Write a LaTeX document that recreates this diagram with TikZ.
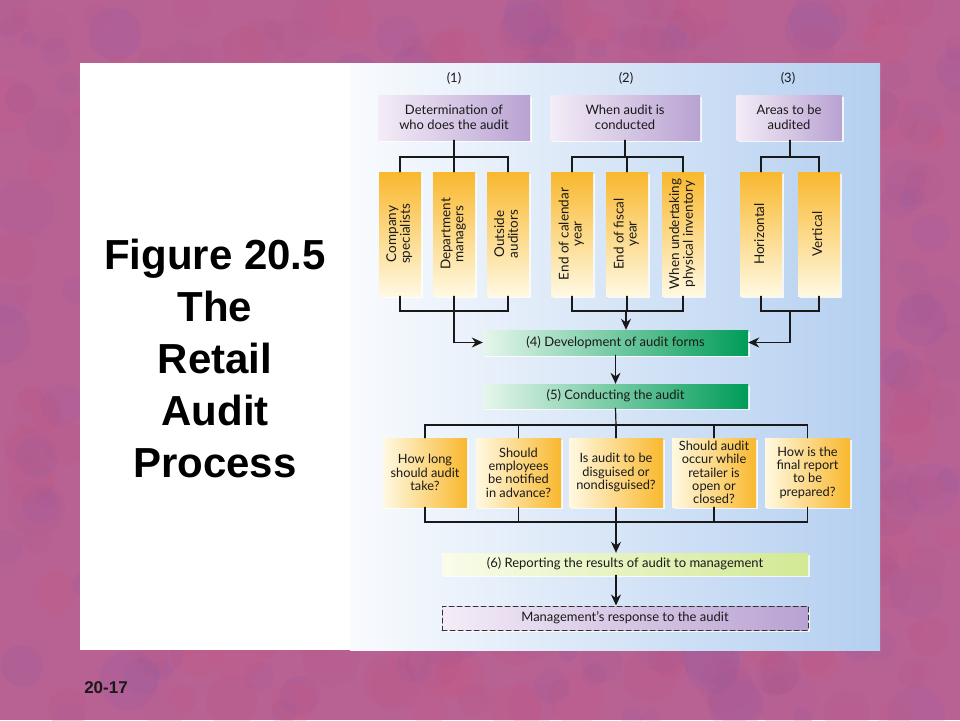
\documentclass[tikz,border=0pt]{standalone}
\usepackage{fontspec}
\usepackage{graphicx}
\setmainfont{Lato}
\newfontfamily\titlefont{Liberation Sans}
\usetikzlibrary{arrows.meta, positioning, shadows}
\newcommand{\sidetext}[1]{\rotatebox{90}{\begin{tabular}{@{}c@{}}#1\end{tabular}}}

\begin{document}
\begin{tikzpicture}[x=1pt, y=-1pt, line cap=round,
    %Style
    connector/.style={line width=1.2pt, black!90},
    arrow line/.style={connector, -{Stealth[length=11pt,width=10pt]}},
    chart box/.style={inner sep=1pt, align=center, text=black!90,
      font=\fontsize{13}{14.8}\selectfont,
      drop shadow={shadow xshift=2pt, shadow yshift=-2pt, fill=white, opacity=0.8}},
    question box/.style={chart box, minimum height=45pt, left color=lilaclight, right color=lilacdark},
    option box/.style={chart box, minimum width=42pt, minimum height=124pt,
      top color=goldtop, bottom color=goldbottom, font=\fontsize{13.5}{13}\selectfont},
    issue box/.style={chart box, minimum height=69pt, left color=goldbottom, right color=goldtop,
      font=\fontsize{12.8}{13.3}\selectfont},
    stage box/.style={chart box, minimum width=265pt, minimum height=25pt,
      left color=mintlight, right color=mintdark},
    report box/.style={chart box, minimum width=366pt, minimum height=22pt,
      left color=limelight, right color=limedark},
    response box/.style={chart box, minimum width=366pt, minimum height=24pt,
      left color=lilaclight, right color=lilacdark, draw=black!80, line width=1pt,
      dash pattern=on 5pt off 3pt},
    title text/.style={align=center, text=black, font=\titlefont\bfseries\fontsize{42}{52}\selectfont}]
    %Colors
    \definecolor{slidepink}{RGB}{184,98,148}
    \definecolor{blobpurple}{RGB}{132,90,170}
    \definecolor{blobred}{RGB}{214,80,110}
    \definecolor{panelblue}{RGB}{180,207,240}
    \definecolor{lilaclight}{RGB}{244,236,247}
    \definecolor{lilacdark}{RGB}{184,162,210}
    \definecolor{goldtop}{RGB}{249,184,46}
    \definecolor{goldbottom}{RGB}{255,249,226}
    \definecolor{mintlight}{RGB}{230,246,236}
    \definecolor{mintdark}{RGB}{0,156,88}
    \definecolor{limelight}{RGB}{249,252,234}
    \definecolor{limedark}{RGB}{210,233,148}

    \useasboundingbox (0,0) rectangle (960,720);

    %The slide
    \begin{scope}
      \clip (0,0) rectangle (960,720);
      \fill[slidepink] (0,0) rectangle (960,720);
      \pgfmathsetseed{17}
      \foreach \i in {1,...,500}{
        \pgfmathsetmacro{\bx}{rnd*960}
        \pgfmathsetmacro{\by}{rnd*720}
        \pgfmathsetmacro{\br}{8+rnd*22}
        \pgfmathsetmacro{\bmix}{rnd*100}
        \fill[blobpurple!\bmix!blobred, opacity=0.14] (\bx,\by) circle [radius=\br];
      }
    \end{scope}
    \fill[white] (80,63) rectangle (880,650);
    \shade[left color=white!92!panelblue, right color=panelblue] (350,63) rectangle (880,650);

    \node[title text] (title) at (215,358) {Figure 20.5\\The\\Retail\\Audit\\Process};
    \node[font=\titlefont\bfseries\fontsize{17}{20}\selectfont, text=black!90] (page) at (106,688) {20-17};

    %Three decisions
    \foreach \n/\x in {1/454, 2/626, 3/788}
      \node[font=\fontsize{13}{14}\selectfont, text=black!90] (head\n) at (\x,78) {(\n)};
    \node[question box, minimum width=152pt] (who) at (454,117.5) {Determination of\\who does the audit};
    \node[question box, minimum width=150pt] (when) at (625,117.5) {When audit is\\conducted};
    \node[question box, minimum width=105pt] (areas) at (789,117.5) {Areas to be\\audited};

    \foreach \name/\x/\text in {who1/400/Company\\specialists, who2/454/Department\\managers,
        who3/508/Outside\\auditors, when1/572/End of calendar\\year, when2/627/End of fiscal\\year,
        when3/683/When undertaking\\physical inventory, areas1/761/Horizontal, areas2/819/Vertical}
      \node[option box] (\name) at (\x,234) {\sidetext{\text}};

    \node[stage box] (forms) at (615.5,342.5) {(4) Development of audit forms};
    \node[stage box, minimum height=24pt] (conduct) at (615.5,396) {(5) Conducting the audit};

    \foreach \name/\x/\w/\text in {long/425/84/How long\\should audit\\take?,
        notify/518.5/85/Should\\employees\\be notified\\in advance?,
        disguise/616/94/Is audit to be\\disguised or\\nondisguised?,
        open/714/84/Should audit\\occur while\\retailer is\\open or\\closed?,
        final/807.5/85/How is the\\final report\\to be\\prepared?}
      \node[issue box, minimum width=\w pt] (\name) at (\x,472.5) {\text};

    \node[report box] (report) at (625,564) {(6) Reporting the results of audit to management};
    \node[response box] (response) at (625,618) {Management's response to the audit};

    %Connectors
    \coordinate (who top) at (454,157);
    \coordinate (when top) at (626,157);
    \coordinate (areas top) at (790,157);
    \coordinate (who low) at (454,311);
    \coordinate (when low) at (626,311);
    \coordinate (areas low) at (790,311);
    \coordinate (ask top) at (616,425);
    \coordinate (ask low) at (616,522);

    \draw[connector] (who.south) -- (who.south |- who top);
    \draw[connector] (when.south) -- (when.south |- when top);
    \draw[connector] (areas.south -| areas top) -- (areas top);
    \draw[connector] (who1.north) |- (who3.north |- who top) -- (who3.north);
    \draw[connector] (who2.north) -- (who2.north |- who top);
    \draw[connector] (when1.north) |- (when3.north |- when top) -- (when3.north);
    \draw[connector] (when2.north) -- (when2.north |- when top);
    \draw[connector] (areas1.north) |- (areas2.north |- areas top) -- (areas2.north);

    \draw[connector] (who1.south) |- (who3.south |- who low) -- (who3.south);
    \draw[connector] (who2.south) -- (who2.south |- who low);
    \draw[connector] (when1.south) |- (when3.south |- when low) -- (when3.south);
    \draw[connector] (when2.south) -- (when2.south |- when low);
    \draw[connector] (areas1.south) |- (areas2.south |- areas low) -- (areas2.south);

    \draw[arrow line] (who low) |- (forms.west);
    \draw[arrow line] (when low) -- (when low |- forms.north);
    \draw[arrow line] (areas low) |- (forms.east);
    \draw[arrow line] (forms.south) -- (conduct.north);

    \draw[connector] (conduct.south) -- (ask top);
    \draw[connector] (long.north) |- (final.north |- ask top) -- (final.north);
    \foreach \name in {notify, disguise, open}
      \draw[connector] (\name.north) -- (\name.north |- ask top);
    \draw[connector] (long.south) |- (final.south |- ask low) -- (final.south);
    \foreach \name in {notify, disguise, open}
      \draw[connector] (\name.south) -- (\name.south |- ask low);

    \draw[arrow line] (ask low) -- (ask low |- report.north);
    \draw[arrow line] (report.south -| ask low) -- (response.north -| ask low);
  \end{tikzpicture}
\end{document}
